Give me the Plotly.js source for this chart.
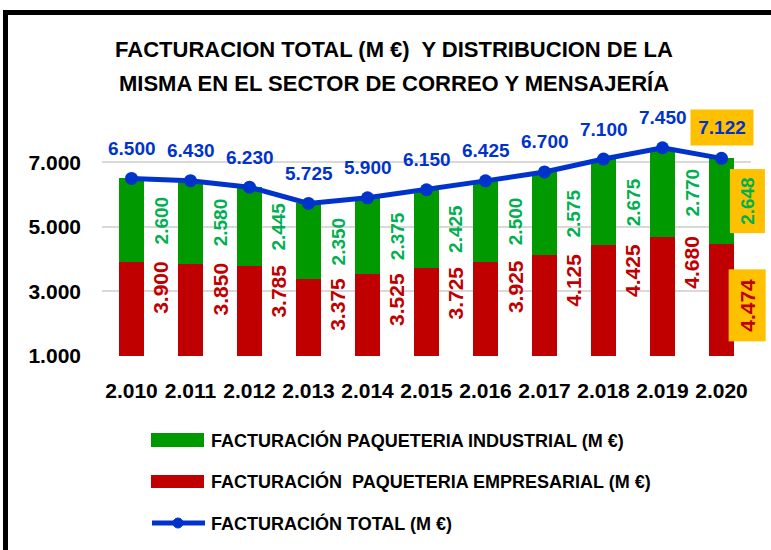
<!DOCTYPE html>
<html><head><meta charset="utf-8">
<script src="https://cdn.plot.ly/plotly-3.0.1.min.js"></script>
<style>html,body{margin:0;padding:0;background:#fff}#chart{width:771px;height:550px}</style>
</head><body><div id="chart"></div>
<script>
// ---- data ----
const years = ['2.010','2.011','2.012','2.013','2.014','2.015','2.016','2.017','2.018','2.019','2.020'];
const empresarial = [3900,3850,3785,3375,3525,3725,3925,4125,4425,4680,4474];
const industrial  = [2600,2580,2445,2350,2375,2425,2500,2575,2675,2770,2648];
const total       = [6500,6430,6230,5725,5900,6150,6425,6700,7100,7450,7122];
const yTickVals = [1000,3000,5000,7000];
const yTickText = ['1.000','3.000','5.000','7.000'];
const seriesNames = ['FACTURACIÓN PAQUETERIA INDUSTRIAL (M €)','FACTURACIÓN\u00a0 PAQUETERIA EMPRESARIAL (M €)','FACTURACIÓN TOTAL (M €)'];

const fmt = v => (v/1000).toFixed(3);
const FONT = 'Liberation Sans, Arial, sans-serif';
const GREEN='#009900', RED='#C00000', BLUE='#0033CC', GREEN_T='#00B050', HIGHLIGHT='#FFC000';

// ---- layout helpers (pixel -> paper) ----
const W=771,H=550,L=102,R=20,T=130,B=194;
const pw=W-L-R, ph=H-T-B;
const px = x => (x-L)/pw;
const py = y => (H-B-y)/ph;
const last = years.length-1;

const traces = [
  {type:'bar', name:seriesNames[1], x:years, y:empresarial, marker:{color:RED}, width:0.44, hoverinfo:'y'},
  {type:'bar', name:seriesNames[0], x:years, y:industrial, marker:{color:GREEN}, width:0.44, hoverinfo:'y'},
  {type:'scatter', mode:'lines+markers', name:seriesNames[2], x:years, y:total,
   line:{color:BLUE, width:5}, marker:{color:BLUE, size:13}, hoverinfo:'y'}
];

const annotations = [];
years.forEach((yr,i)=>{
  const isLast = i===last;
  // total labels (x given as category index)
  annotations.push(Object.assign({
    x:i, y:total[i], yshift: isLast?31:30, text:fmt(total[i]), showarrow:false,
    font:{family:FONT, size:19, color:BLUE, weight:'bold'}
  }, isLast?{bgcolor:HIGHLIGHT, width:62, height:35, borderpad:0}:{}));
  // industrial labels (centre of green segment)
  annotations.push(Object.assign({
    x:i, y:empresarial[i]+industrial[i]/2, xshift: isLast?26:29.5, textangle:-90,
    text:fmt(industrial[i]), showarrow:false,
    font:{family:FONT, size:19, color:GREEN_T, weight:'bold'}
  }, isLast?{bgcolor:HIGHLIGHT, width:63, height:34, borderpad:0}:{}));
  // empresarial labels (top aligned with red segment)
  annotations.push(Object.assign({
    x:i, y:empresarial[i], yanchor:'top', xshift: isLast?26:29.5, yshift: isLast?-25:3, textangle:-90,
    text:fmt(empresarial[i]), showarrow:false,
    font:{family:FONT, size:21, color:RED, weight:'bold'}
  }, isLast?{bgcolor:HIGHLIGHT, width:71, height:36, borderpad:0}:{}));
});

// custom legend texts
const legY = [440, 481.5, 523];
seriesNames.forEach((n,k)=>{
  annotations.push({xref:'paper', yref:'paper', x:px(209), y:py(legY[k]), xanchor:'left', yanchor:'middle',
    text:n, showarrow:false, font:{family:FONT, size:18, color:'#000', weight:'bold'}});
});

const shapes = [
  // legend symbols
  {type:'rect', xref:'paper', yref:'paper', x0:px(151), x1:px(204), y0:py(447), y1:py(433), fillcolor:GREEN, line:{width:0}},
  {type:'rect', xref:'paper', yref:'paper', x0:px(151), x1:px(204), y0:py(488), y1:py(475), fillcolor:RED, line:{width:0}},
  {type:'line', xref:'paper', yref:'paper', x0:px(152), x1:px(205), y0:py(523), y1:py(523), line:{color:BLUE, width:5}},
  {type:'circle', xref:'paper', yref:'paper', x0:px(173), x1:px(183), y0:py(528), y1:py(518), fillcolor:BLUE, line:{color:BLUE, width:1}},
  // frame
  {type:'line', xref:'paper', yref:'paper', x0:px(5.5), x1:px(5.5), y0:py(10), y1:py(560), line:{color:'#000', width:5}},
  {type:'line', xref:'paper', yref:'paper', x0:px(3), x1:px(790), y0:py(12.5), y1:py(12.5), line:{color:'#000', width:5}}
];

const layout = {
  width:W, height:H, margin:{l:L, r:R, t:T, b:B, pad:0},
  paper_bgcolor:'#fff', plot_bgcolor:'#fff',
  font:{family:FONT, color:'#000'},
  showlegend:false, barmode:'stack',
  title:{
    text:'<span style="font-size:22px">FACTURACION TOTAL (M €)\u00a0 Y DISTRIBUCION DE LA</span><br><span style="font-size:22px">MISMA EN EL SECTOR DE CORREO Y MENSAJERÍA</span>',
    font:{family:FONT, size:26, color:'#000', weight:'bold'},
    xref:'container', x:394/W, xanchor:'center', yref:'container', y:1-57/H, yanchor:'middle'
  },
  xaxis:{type:'category', showgrid:false, zeroline:false, showline:false, ticks:'',
    tickfont:{family:FONT, size:21, color:'#000', weight:'bold'}, ticklabelstandoff:20, range:[-0.5, 10.5]},
  yaxis:{range:[1000,8000], tickvals:yTickVals, ticktext:yTickText, showgrid:true, gridcolor:'#D9D9D9', gridwidth:2,
    zeroline:false, showline:false, ticks:'', tickfont:{family:FONT, size:21, color:'#000', weight:'bold'}, ticklabelstandoff:20},
  annotations, shapes
};

Plotly.newPlot('chart', traces, layout, {displayModeBar:false, staticPlot:true});
</script>
</body></html>
